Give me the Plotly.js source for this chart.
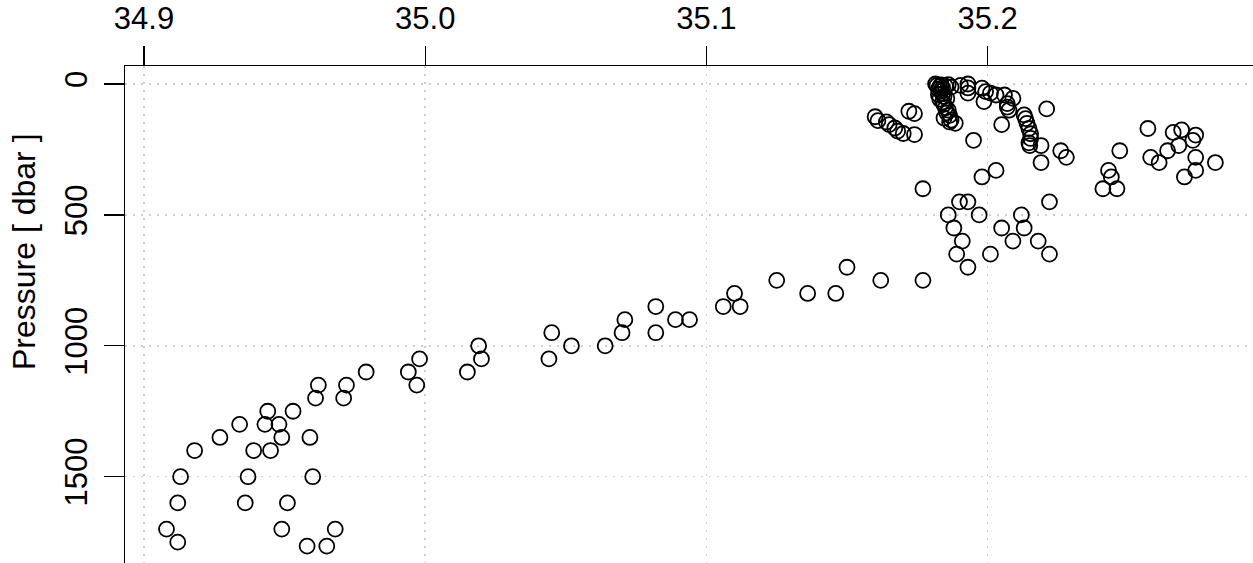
<!DOCTYPE html>
<html>
<head>
<meta charset="utf-8">
<script src="https://cdn.plot.ly/plotly-3.0.1.min.js"></script>
<style>
html,body{margin:0;padding:0;background:#fff;overflow:hidden;}
#plot{width:1253px;height:563px;}
</style>
</head>
<body>
<div id="plot"></div>
<script>
// Salinity (PSU) and pressure (dbar)
const salinity = [
  // deep part of profile
  34.908,34.912,34.913,34.912,34.918,34.927,34.934,34.936,34.937,34.939,
  34.943,34.944,34.945,34.948,34.949,34.949,34.951,34.953,34.958,34.959,
  34.960,34.961,34.962,34.965,34.968,34.971,34.972,34.979,34.994,34.997,
  34.998,35.015,35.019,35.020,35.044,35.045,35.052,35.064,35.070,35.071,
  35.082,35.082,35.089,35.094,35.106,35.110,35.112,35.125,35.136,35.146,
  35.150,35.162,35.177,35.177,
  // 330-700 dbar
  35.186,35.188,35.190,35.193,35.191,35.189,35.193,35.197,35.201,35.205,
  35.209,35.212,35.213,35.218,35.222,35.222,35.198,35.203,
  // right cluster
  35.257,35.266,35.269,35.274,35.273,35.268,35.264,35.258,35.261,35.274,
  35.281,35.274,35.270,35.247,35.243,35.244,35.241,35.246,
  // upper middle
  35.221,35.226,35.228,35.219,35.219,35.215,35.205,35.195,
  // upper left
  35.160,35.161,35.164,35.165,35.167,35.168,35.170,35.174,35.172,35.174,
  // dense near-surface cluster
  35.1815,35.182,35.183,35.1835,35.184,35.185,35.186,35.187,35.1825,35.1835,
  35.184,35.1845,35.183,35.184,35.1845,35.185,35.186,35.1855,35.1865,35.1845,
  35.187,35.1865,35.1885,35.1825,35.1855,
  // top-right of cluster and diagonal
  35.1904,35.193,35.193,35.193,35.198,35.1993,35.201,35.203,35.1987,35.206,
  35.209,35.207,35.2076,35.207,35.213,35.2135,35.214,35.2147,35.2153,35.2153,
  35.2147
];
const pressure = [
  1700,1750,1500,1600,1400,1350,1300,1600,1500,1400,
  1300,1250,1400,1300,1350,1700,1600,1250,1765,1350,
  1500,1200,1150,1765,1700,1200,1150,1100,1100,1150,
  1050,1100,1000,1050,1050,950,1000,1000,950,900,
  850,950,900,900,850,800,850,750,800,800,
  700,750,750,400,
  500,550,450,450,600,650,700,500,650,550,
  600,500,550,600,650,450,355,330,
  170,185,175,195,215,235,255,280,300,280,
  300,330,355,255,330,355,400,400,
  95,255,280,235,300,235,155,215,
  125,140,145,155,168,180,189,193,104,113,
  0,5,10,3,15,8,2,12,20,28,
  38,48,58,68,78,90,100,110,120,130,
  138,145,150,40,55,
  5,0,15,35,16,29,35,42,67,42,
  55,88,100,75,118,132,150,170,190,208,
  225
];
const xTickVals = [34.9, 35.0, 35.1, 35.2];
const xTickText = ["34.9", "35.0", "35.1", "35.2"];
const yTickVals = [0, 500, 1000, 1500];
const yTickText = ["0", "500", "1000", "1500"];
const yTitle = "Pressure [ dbar ]";

const FONT = "Liberation Sans, Arial, Helvetica, sans-serif";
const FS = 31;

const trace = {
  x: salinity,
  y: pressure,
  type: "scatter",
  mode: "markers",
  marker: {symbol: "circle-open", size: 15, color: "#000", line: {width: 1.8, color: "#000"}},
  hoverinfo: "skip",
  cliponaxis: true
};

const layout = {
  width: 1253, height: 563,
  margin: {l: 125, r: 0, t: 66, b: 0, pad: 0},
  paper_bgcolor: "#fff", plot_bgcolor: "#fff",
  showlegend: false,
  font: {family: FONT, size: FS, color: "#000"},
  xaxis: {
    side: "top",
    range: [34.89324, 35.29438],
    tickvals: xTickVals, ticktext: xTickText,
    ticks: "outside", ticklen: 19, tickwidth: 1.3, tickcolor: "#000",
    ticklabelstandoff: 4,
    showline: true, linecolor: "#000", linewidth: 1.3, mirror: false,
    showgrid: true, gridcolor: "#cfcfcf", griddash: "1.5px,6.5px", gridwidth: 1.5,
    zeroline: false, automargin: false,
    tickfont: {family: FONT, size: FS, color: "#000"}
  },
  yaxis: {
    range: [1829.6, -68.8],
    tickvals: yTickVals, ticktext: yTickText,
    tickangle: -90,
    ticks: "outside", ticklen: 20, tickwidth: 1.3, tickcolor: "#000",
    ticklabelstandoff: 4,
    showline: true, linecolor: "#000", linewidth: 1.3, mirror: false,
    showgrid: true, gridcolor: "#cfcfcf", griddash: "1.5px,6.5px", gridwidth: 1.5,
    zeroline: false, automargin: false,
    tickfont: {family: FONT, size: FS, color: "#000"}
  },
  annotations: [{
    text: yTitle, textangle: -90,
    xref: "paper", yref: "paper",
    x: (24 - 125) / 1128, y: (563 - 252) / 497,
    xanchor: "center", yanchor: "middle",
    showarrow: false,
    font: {family: FONT, size: 32, color: "#000"}
  }]
};

Plotly.newPlot("plot", [trace], layout, {displayModeBar: false, staticPlot: true});
</script>
</body>
</html>
